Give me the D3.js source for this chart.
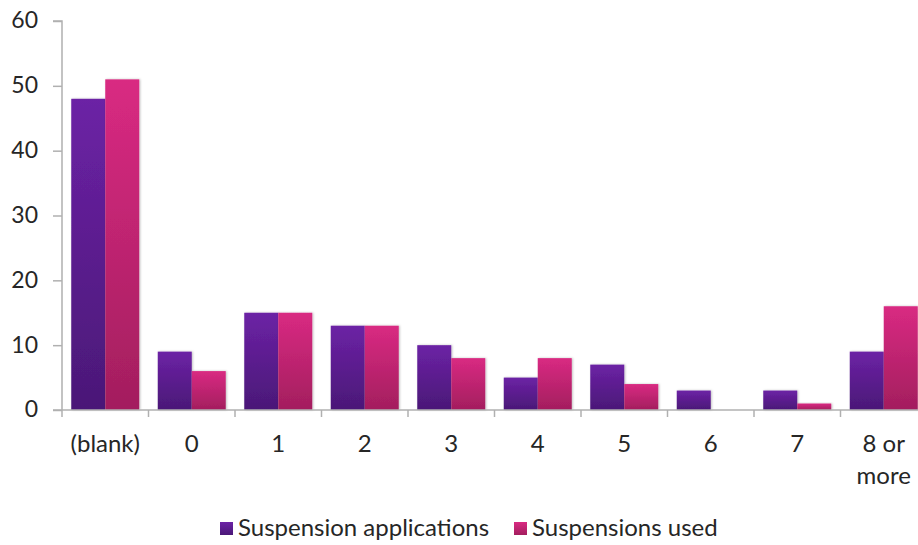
<!DOCTYPE html>
<html><head><meta charset="utf-8">
<script src="https://cdn.jsdelivr.net/npm/d3@7"></script>
<style>body{margin:0;background:#fff;}svg{display:block;}</style>
</head><body>
<svg id="c" width="918" height="545"></svg>
<script>
const categories = ["(blank)","0","1","2","3","4","5","6","7","8 or more"];
const applications = [48,9,15,13,10,5,7,3,3,9];
const used = [51,6,15,13,8,8,4,0,1,16];
const seriesNames = ["Suspension applications","Suspensions used"];
const yTicks = [0,10,20,30,40,50,60];

(function(){
const svg = d3.select("#c");
const W = 918, H = 545;
const mLeft = 62, mBottom = 410, mTop = 21;
const step = 86.5;
const x = d3.scaleBand().domain(categories).range([mLeft, mLeft + step*categories.length]).paddingInner(0.214).paddingOuter(0.107);
const x1 = d3.scaleBand().domain([0,1]).range([0, x.bandwidth()]);
const y = d3.scaleLinear().domain([0,60]).range([mBottom, mTop]);

const defs = svg.append("defs");
const grads = [["#6c22a5","#4a1877"],["#d92a82","#a31e5e"]];
grads.forEach((g,i)=>{
  const lg = defs.append("linearGradient").attr("id","g"+i).attr("x1",0).attr("y1",0).attr("x2",0).attr("y2",1);
  lg.append("stop").attr("offset","0%").attr("stop-color",g[0]);
  lg.append("stop").attr("offset","100%").attr("stop-color",g[1]);
});
const f = defs.append("filter").attr("id","sh").attr("x","-10%").attr("y","-10%").attr("width","130%").attr("height","130%");
f.append("feDropShadow").attr("dx",1).attr("dy",0).attr("stdDeviation",1).attr("flood-color","#000").attr("flood-opacity",0.25);

const font = "'Lato', 'Open Sans', sans-serif";
const textColor = "#262626";
const series = [applications, used];

const gBars = svg.append("g");
categories.forEach((c,ci)=>{
  series.forEach((s,si)=>{
    const v = s[ci];
    if (v <= 0) return;
    gBars.append("rect")
      .attr("x", x(c) + x1(si))
      .attr("y", y(v))
      .attr("width", x1.bandwidth())
      .attr("height", y(0) - y(v))
      .attr("fill", "url(#g"+si+")")
      .attr("filter","url(#sh)");
  });
});

const yAxis = d3.axisLeft(y).tickValues(yTicks).tickSize(9).tickPadding(15);
const gy = svg.append("g").attr("transform",`translate(${mLeft},0)`).call(yAxis);
gy.select(".domain").attr("stroke","#b0b0b0").attr("stroke-width",1.5).attr("d",`M-9,${mTop}H0V${mBottom}`);
gy.selectAll(".tick line").attr("stroke","#b0b0b0").attr("stroke-width",1.5);
gy.selectAll(".tick text").attr("font-family",font).attr("font-size",23).attr("fill",textColor).attr("dy","0.3em");

const boundaries = d3.range(categories.length+1).map(i=>mLeft + i*step);
svg.append("line").attr("x1",mLeft-9).attr("x2",W).attr("y1",mBottom).attr("y2",mBottom).attr("stroke","#b0b0b0").attr("stroke-width",1.5);
svg.append("g").selectAll("line").data(boundaries).join("line")
  .attr("x1",d=>d).attr("x2",d=>d).attr("y1",mBottom).attr("y2",mBottom+7)
  .attr("stroke","#b0b0b0").attr("stroke-width",1.5);

const gx = svg.append("g");
categories.forEach(c=>{
  const cx = x(c) + x.bandwidth()/2;
  const parts = c === "8 or more" ? ["8 or","more"] : [c];
  parts.forEach((p,pi)=>{
    gx.append("text").attr("x",cx).attr("y",452 + pi*32).attr("text-anchor","middle")
      .attr("font-family",font).attr("font-size",24).attr("fill",textColor).text(p);
  });
});

const leg = svg.append("g");
const legX = [220, 514];
seriesNames.forEach((n,i)=>{
  leg.append("rect").attr("x",legX[i]).attr("y",522).attr("width",13).attr("height",13).attr("fill","url(#g"+i+")");
  leg.append("text").attr("x",legX[i]+18).attr("y",536).attr("font-family",font).attr("font-size",24).attr("fill",textColor).text(n);
});
})();
</script>
</body></html>
